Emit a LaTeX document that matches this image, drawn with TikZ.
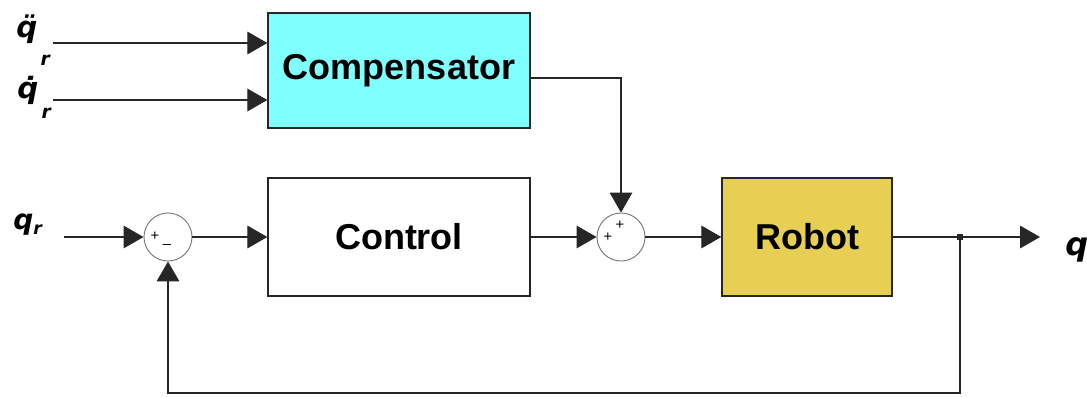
\documentclass[tikz,border=0pt]{standalone}
\usepackage{fontspec}
\setmainfont{Liberation Sans}
\newfontfamily\labelfont{DejaVu Sans}
\usetikzlibrary{arrows.meta}
\definecolor{compcyan}{RGB}{128,255,255}
\definecolor{robotyellow}{RGB}{230,207,82}
\definecolor{sumgray}{RGB}{120,120,120}
\tikzset{
  blockbox/.style={draw=black!85, line width=1pt, inner sep=0pt, font=\fontsize{27}{27}\selectfont\bfseries},
  sumnode/.style={circle, draw=sumgray, line width=0.7pt, minimum size=36pt, inner sep=0pt},
  signtext/.style={inner sep=0pt, font=\fontsize{11}{11}\selectfont},
  wire/.style={line width=0.8pt, draw=black!85},
  arr/.style={wire, -{Triangle[length=15pt,width=17pt]}},
  qlabel/.style={anchor=base west, inner sep=0pt, font=\labelfont\bfseries\itshape},
}
\begin{document}
\begin{tikzpicture}[x=0.75pt, y=-0.75pt]
\useasboundingbox (0,0) rectangle (1087,396);
% blocks
\node[blockbox, fill=compcyan, minimum width=196.5pt, minimum height=86.25pt] (comp) at (399,70.5) {Compensator};
\node[blockbox, fill=white, minimum width=196.5pt, minimum height=88.5pt] (ctrl) at (399,237) {Control};
\node[blockbox, fill=robotyellow, minimum width=127.5pt, minimum height=88.5pt] (robot) at (807,237) {Robot};
% summing junctions
\node[sumnode] (s1) at (168,237) {};
\node[sumnode] (s2) at (621,237) {};
\node[signtext] (s1p) at (155,236) {+};
\node[signtext] (s1m) at (167,244) {\textunderscore};
\node[signtext] (s2a) at (608,237) {+};
\node[signtext] (s2b) at (620,225) {+};
% labels
\node[qlabel] (lqdd) at (16,37) {\fontsize{22}{22}\selectfont q̈\hspace{2.5pt}\raisebox{-21pt}{\fontsize{14}{14}\selectfont r}};
\node[qlabel] (lqd) at (17,98) {\fontsize{22}{22}\selectfont q̇\hspace{2.5pt}\raisebox{-15.5pt}{\fontsize{14}{14}\selectfont r}};
\node[qlabel] (lq) at (13,229) {\fontsize{21}{21}\selectfont q\raisebox{-4pt}{\fontsize{13}{13}\selectfont r}};
\node[qlabel] (lout) at (1065,255) {\fontsize{24}{24}\selectfont q};
% coordinates
\coordinate (in1) at (53,43);
\coordinate (in2) at (53,100);
\coordinate (in3) at (64,237);
\coordinate (cout) at (530,78);
\coordinate (oe) at (1040,237);
\coordinate (fb) at (960,393);
\node[fill=black!85, minimum size=4.5pt, inner sep=0pt] (j) at (960,237) {};
% connectors
\draw[arr] (in1) -- (in1 -| comp.west);
\draw[arr] (in2) -- (in2 -| comp.west);
\draw[arr] (cout) -| (s2.north);
\draw[arr] (in3) -- (s1.west);
\draw[arr] (s1.east) -- (ctrl.west);
\draw[arr] (ctrl.east) -- (s2.west);
\draw[arr] (s2.east) -- (robot.west);
\draw[arr] (robot.east) -- (oe);
\draw[arr] (j.center) -- (fb) -| (s1.south);
\end{tikzpicture}
\end{document}
